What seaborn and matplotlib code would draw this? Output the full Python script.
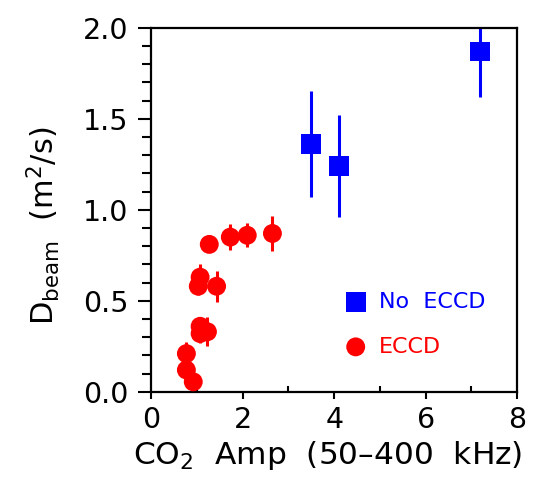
import matplotlib
matplotlib.use("Agg")
import matplotlib.pyplot as plt
import seaborn as sns
import pandas as pd
from matplotlib.ticker import MultipleLocator, FormatStrFormatter

# ECCD points (red circles)
eccd_x = [0.77, 0.77, 0.92, 1.07, 1.07, 1.23, 1.03, 1.07, 1.43, 1.27, 1.73, 2.10, 2.65]
eccd_y = [0.21, 0.12, 0.055, 0.36, 0.32, 0.33, 0.58, 0.63, 0.58, 0.81, 0.85, 0.86, 0.87]
eccd_err = [0.065, 0.04, 0.03, 0.05, 0.05, 0.08, 0.05, 0.07, 0.085, 0.03, 0.07, 0.065, 0.095]

# No ECCD points (blue squares)
noeccd_x = [3.49, 4.10, 7.19]
noeccd_y = [1.36, 1.24, 1.87]
noeccd_err = [0.29, 0.28, 0.25]

sns.set_style("white")
plt.rcParams["font.family"] = ["DejaVu Sans"]
plt.rcParams["mathtext.default"] = "regular"
plt.rcParams["text.color"] = "black"
plt.rcParams["axes.labelcolor"] = "black"
plt.rcParams["xtick.color"] = "black"
plt.rcParams["ytick.color"] = "black"

fig = plt.figure(figsize=(5.36, 4.79), dpi=100)
ax = fig.add_axes([0.282, 0.182, 0.683, 0.760])

df_e = pd.DataFrame({"x": eccd_x, "y": eccd_y, "err": eccd_err})
df_n = pd.DataFrame({"x": noeccd_x, "y": noeccd_y, "err": noeccd_err})

ax.errorbar(df_e["x"], df_e["y"], yerr=df_e["err"], fmt="none", ecolor="red",
            elinewidth=2.2, capsize=0, zorder=2)
ax.errorbar(df_n["x"], df_n["y"], yerr=df_n["err"], fmt="none", ecolor="blue",
            elinewidth=2.2, capsize=0, zorder=2)

sns.scatterplot(data=df_e, x="x", y="y", ax=ax, marker="o", s=185, color="red",
                edgecolor="none", zorder=3, legend=False)
sns.scatterplot(data=df_n, x="x", y="y", ax=ax, marker="s", s=205, color="blue",
                edgecolor="none", zorder=3, legend=False)

ax.set_xlim(0, 8)
ax.set_ylim(0, 2.0)
ax.xaxis.set_major_locator(MultipleLocator(2))
ax.xaxis.set_minor_locator(MultipleLocator(1))
ax.yaxis.set_major_locator(MultipleLocator(0.5))
ax.yaxis.set_minor_locator(MultipleLocator(0.1))
ax.yaxis.set_major_formatter(FormatStrFormatter("%.1f"))

for sp in ax.spines.values():
    sp.set_linewidth(1.6)
    sp.set_color("black")

ax.tick_params(axis="x", which="major", direction="out", length=5, width=1.5,
               labelsize=20.5, pad=5, bottom=True)
ax.tick_params(axis="x", which="minor", direction="in", length=4.3, width=1.5, bottom=True)
ax.tick_params(axis="y", which="major", direction="out", length=9.5, width=1.5,
               labelsize=20.5, pad=7, left=True)
ax.tick_params(axis="y", which="minor", direction="out", length=6.5, width=1.5, left=True)

ax.set_xlabel("CO$_2$  Amp  (50\u2013400  kHz)", fontsize=22.5, labelpad=4)
ax.xaxis.label.set_x(0.482)
ax.set_ylabel("D$_{beam}$  (m$^2$/s)", fontsize=22)
ax.yaxis.set_label_coords(-0.243, 0.456)

# Legend drawn as markers + text in data coordinates
ax.scatter([4.47], [0.495], marker="s", s=205, color="blue", edgecolor="none")
ax.text(4.98, 0.495, "No  ECCD", color="blue", fontsize=16, va="center")
ax.scatter([4.47], [0.247], marker="o", s=185, color="red", edgecolor="none")
ax.text(4.98, 0.247, "ECCD", color="red", fontsize=16, va="center")

fig.savefig("out.png", dpi=100)
